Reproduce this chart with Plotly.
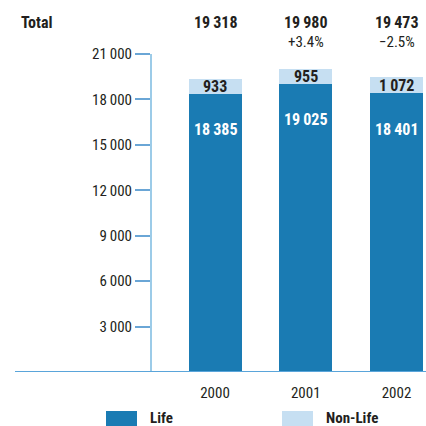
import plotly.graph_objects as go

years = ["2000", "2001", "2002"]
life = [18385, 19025, 18401]
non_life = [933, 955, 1072]
totals = [19318, 19980, 19473]
changes = ["", "+3.4%", "\u22122.5%"]
y_ticks = [3000, 6000, 9000, 12000, 15000, 18000, 21000]

W, H = 426, 426
T, B = 54, 54
PH = H - T - B

def fmt(v):
    s = f"{v:,}".replace(",", "\u2009")
    return s

def px_x(p):
    return p / W

def px_y(p):
    return (H - B - p) / PH

FONT = "Liberation Sans Narrow, Arial Narrow, Roboto Condensed, sans-serif"
DARK = "#1a7bb3"
LIGHT = "#c6dff2"
TXT = "#231f20"

xs = list(range(len(years)))
step = 90.75
c0 = 215

fig = go.Figure()
fig.add_bar(x=xs, y=life, marker_color=DARK, width=0.584, marker_line_width=0, name="Life")
fig.add_bar(x=xs, y=non_life, marker_color=LIGHT, width=0.584, marker_line_width=0, name="Non-Life")

ann = []
for i in xs:
    ann.append(dict(x=i, y=life[i], yshift=-36, text=f"<b>{fmt(life[i])}</b>", showarrow=False,
                    font=dict(family=FONT, size=16, color="white"), xanchor="center", yanchor="middle"))
    ann.append(dict(x=i, y=life[i] + non_life[i] / 2, text=f"<b>{fmt(non_life[i])}</b>", showarrow=False,
                    font=dict(family=FONT, size=16, color=TXT), xanchor="center", yanchor="middle"))
    ann.append(dict(x=i, y=px_y(22.5), yref="paper", text=f"<b>{fmt(totals[i])}</b>", showarrow=False,
                    font=dict(family=FONT, size=16, color=TXT), xanchor="center", yanchor="middle"))
    if changes[i]:
        ann.append(dict(x=i, y=px_y(42.5), yref="paper", text=changes[i], showarrow=False,
                        font=dict(family=FONT, size=15, color=TXT), xanchor="center", yanchor="middle"))
ann.append(dict(x=px_x(19), xref="paper", y=px_y(22.5), yref="paper", text="<b>Total</b>", showarrow=False,
                font=dict(family=FONT, size=16, color=TXT), xanchor="left", yanchor="middle"))
ann.append(dict(x=px_x(148), xref="paper", y=px_y(418), yref="paper", text="<b>Life</b>", showarrow=False,
                font=dict(family=FONT, size=15, color=TXT), xanchor="left", yanchor="middle"))
ann.append(dict(x=px_x(324), xref="paper", y=px_y(418), yref="paper", text="<b>Non-Life</b>", showarrow=False,
                font=dict(family=FONT, size=15, color=TXT), xanchor="left", yanchor="middle"))

shapes = [
    dict(type="line", xref="paper", yref="y", x0=px_x(15), x1=1, y0=0, y1=0,
         line=dict(color="#5aa5da", width=2)),
    dict(type="rect", xref="paper", yref="paper", x0=px_x(106), x1=px_x(137), y0=px_y(411), y1=px_y(432),
         fillcolor=DARK, line_width=0),
    dict(type="rect", xref="paper", yref="paper", x0=px_x(282), x1=px_x(313), y0=px_y(411), y1=px_y(432),
         fillcolor=LIGHT, line_width=0),
]

fig.update_layout(
    barmode="stack",
    width=W, height=H,
    margin=dict(l=0, r=0, t=T, b=B, pad=0),
    paper_bgcolor="white", plot_bgcolor="white",
    showlegend=False,
    annotations=ann,
    shapes=shapes,
    xaxis=dict(range=[-c0 / step, (W - c0) / step], tickvals=xs, ticktext=years,
               showgrid=False, zeroline=False, showline=False,
               ticks="outside", ticklen=7, tickcolor="rgba(0,0,0,0)",
               tickfont=dict(family=FONT, size=15, color=TXT)),
    yaxis=dict(range=[0, 21000], anchor="free", position=px_x(151), side="left",
               tickvals=y_ticks, ticktext=[fmt(v) for v in y_ticks],
               ticks="outside", ticklen=15, tickcolor="#6aa6d6", tickwidth=1.5,
               showline=True, linecolor="#9ccbe8", linewidth=2,
               showgrid=False, zeroline=False,
               tickfont=dict(family=FONT, size=15, color=TXT)),
)

fig.write_html("out.html")
